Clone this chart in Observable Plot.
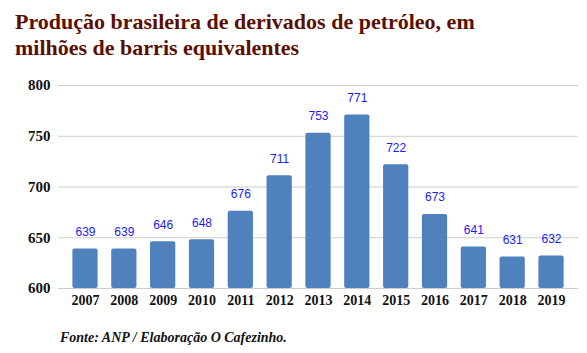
<!DOCTYPE html>
<html><head><meta charset="utf-8">
<script src="https://cdn.jsdelivr.net/npm/d3@7"></script>
<script src="https://cdn.jsdelivr.net/npm/@observablehq/plot@0.6"></script>
</head><body style="margin:0;background:#fff;width:587px;height:353px;position:relative;overflow:hidden">
<div id="chart" style="position:absolute;left:0;top:0"></div>
<div id="title" style="position:absolute;left:15px;top:9px;font-family:'Liberation Serif';font-weight:bold;font-size:22px;line-height:25.5px;color:#5b0f00">Produção brasileira de derivados de petróleo, em<br>milhões de barris equivalentes</div>
<div id="caption" style="position:absolute;left:60px;top:330px;font-family:'Liberation Serif';font-style:italic;font-weight:bold;font-size:14px;color:#111">Fonte: ANP / Elaboração O Cafezinho.</div>
<script>
const years = ["2007","2008","2009","2010","2011","2012","2013","2014","2015","2016","2017","2018","2019"];
const values = [639,639,646,648,676,711,753,771,722,673,641,631,632];
const yTicks = [600,650,700,750,800];
const data = years.map((y,i)=>({year:y,value:values[i]}));
const serif = "Liberation Serif";
const chart = Plot.plot({
  width:587,height:353,
  marginTop:85,marginBottom:65,marginLeft:58,marginRight:9,
  style:{fontFamily:serif,fontSize:"15px",fontWeight:"bold",color:"#111",background:"transparent"},
  x:{domain:years,paddingInner:0.35,paddingOuter:0.37,round:false,label:null},
  y:{domain:[600,800],label:null},
  marks:[
    Plot.gridY(yTicks,{stroke:"#ccc",strokeOpacity:1}),
    Plot.barY(data,{x:"year",y1:600,y2:"value",fill:"#4f81bd",rx:2}),
    Plot.ruleY([600],{stroke:"#ccc"}),
    Plot.text(data,{x:"year",y:"value",text:d=>String(d.value),dy:-13,lineAnchor:"bottom",fill:"#1a1aff",fontFamily:"Liberation Sans",fontSize:12,fontWeight:"normal"}),
    Plot.axisY(yTicks,{tickSize:0,tickPadding:8,label:null,fontFamily:serif,fontWeight:"bold",fontSize:15}),
    Plot.axisX({tickSize:0,tickPadding:7,label:null,fontFamily:serif,fontWeight:"bold",fontSize:14})
  ]
});
document.getElementById("chart").appendChild(chart);
</script>
</body></html>
